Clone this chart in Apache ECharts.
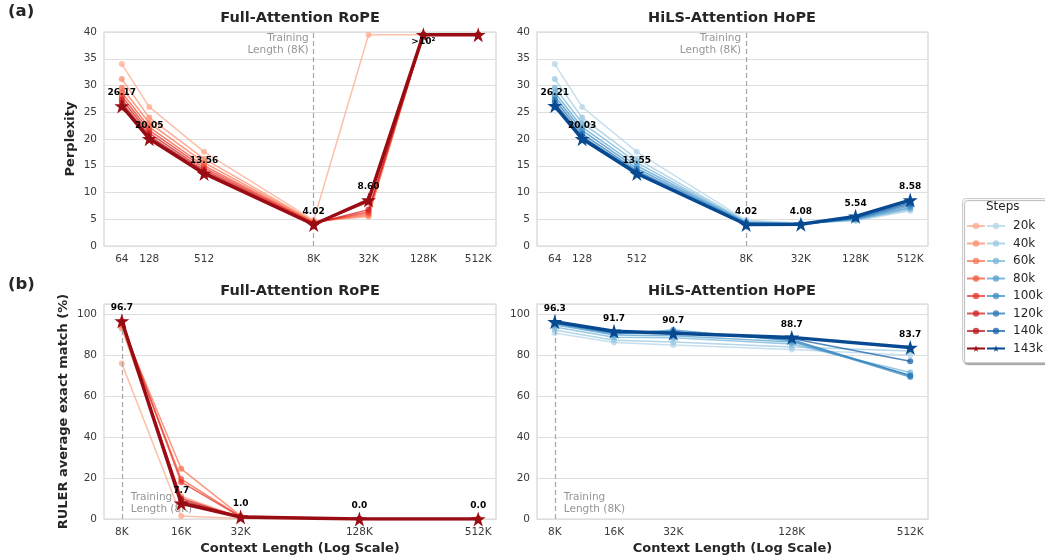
<!DOCTYPE html>
<html>
<head>
<meta charset="utf-8">
<script src="https://cdn.jsdelivr.net/npm/echarts@6/dist/echarts.min.js"></script>
<style>
html,body{margin:0;padding:0;background:#fff;}
#chart{width:1045px;height:558px;}
</style>
</head>
<body>
<div id="chart"></div>
<script>
// ---------------- DATA ----------------
const steps = ['20k', '40k', '60k', '80k', '100k', '120k', '140k', '143k'];

const pplX = [64, 128, 512, 8192, 32768, 131072, 524288];
const pplTickLabels = ['64', '128', '512', '8K', '32K', '128K', '512K'];
const rulerX = [8192, 16384, 32768, 131072, 524288];
const rulerTickLabels = ['8K', '16K', '32K', '128K', '512K'];

// Full-Attention RoPE perplexity (values > 10^2 drawn clipped at the top, 39.5)
const ropePpl = [
  [34.0, 26.0, 17.6, 4.8, 39.5, 39.5, 39.5],
  [31.2, 24.0, 16.3, 4.6, 5.5, 39.5, 39.5],
  [29.6, 23.0, 15.6, 4.5, 5.8, 39.5, 39.5],
  [28.7, 22.2, 15.0, 4.4, 6.1, 39.5, 39.5],
  [28.0, 21.6, 14.6, 4.3, 6.4, 39.5, 39.5],
  [27.4, 21.1, 14.2, 4.2, 6.8, 39.5, 39.5],
  [26.8, 20.6, 13.9, 4.1, 8.2, 39.5, 39.5],
  [26.17, 20.05, 13.56, 4.02, 8.60, 39.5, 39.5]
];
const ropePplLabels = ['26.17', '20.05', '13.56', '4.02', '8.60', '>10²', ''];

// HiLS-Attention HoPE perplexity
const hopePpl = [
  [34.0, 26.0, 17.6, 4.8, 4.3, 4.7, 6.6],
  [31.2, 24.0, 16.3, 4.6, 4.2, 4.8, 6.8],
  [29.6, 23.0, 15.6, 4.5, 4.2, 4.9, 7.0],
  [28.7, 22.2, 15.0, 4.4, 4.1, 5.0, 7.2],
  [28.0, 21.6, 14.5, 4.3, 4.1, 5.1, 7.5],
  [27.4, 21.0, 14.1, 4.2, 4.1, 5.2, 7.8],
  [26.8, 20.5, 13.8, 4.1, 4.1, 5.3, 8.1],
  [26.21, 20.03, 13.55, 4.02, 4.08, 5.54, 8.58]
];
const hopePplLabels = ['26.21', '20.03', '13.55', '4.02', '4.08', '5.54', '8.58'];

// RULER average exact match (%)
const ropeRuler = [
  [76.0, 1.5, 0.3, 0, 0],
  [93.0, 11.0, 0.8, 0, 0],
  [94.5, 24.5, 1.5, 0, 0],
  [95.5, 19.5, 1.2, 0, 0],
  [96.0, 18.0, 1.0, 0, 0],
  [96.3, 10.0, 0.8, 0, 0],
  [96.5, 9.0, 0.9, 0, 0],
  [96.7, 7.7, 1.0, 0.0, 0.0]
];
const ropeRulerLabels = ['96.7', '7.7', '1.0', '0.0', '0.0'];

const hopeRuler = [
  [90.8, 86.2, 85.0, 82.8, 80.0],
  [92.3, 87.3, 86.5, 84.0, 82.0],
  [93.8, 88.8, 88.5, 85.5, 71.5],
  [94.8, 89.8, 89.5, 86.5, 70.2],
  [95.3, 90.3, 92.3, 87.0, 69.3],
  [95.7, 90.8, 91.5, 87.5, 70.0],
  [96.0, 91.2, 91.0, 88.2, 77.0],
  [96.3, 91.7, 90.7, 88.7, 83.7]
];
const hopeRulerLabels = ['96.3', '91.7', '90.7', '88.7', '83.7'];

// ---------------- STYLE ----------------
const reds  = ['#fcab8e', '#fc8f6f', '#fb7353', '#f6553c', '#ea362a', '#d11e20', '#b81319', '#990c13'];
const blues = ['#b6d4e9', '#9ac8e0', '#77b5d9', '#58a1cf', '#3d8dc4', '#2777b8', '#1461a8', '#084a92'];
const FONT = 'DejaVu Sans';
const STAR = 'path://M0,-100L22.45,-30.9L95.1,-30.9L36.3,11.8L58.8,80.9L0,38.2L-58.8,80.9L-36.3,11.8L-95.1,-30.9L-22.45,-30.9Z';

const grids = [
  {left: 104, top: 32, width: 392, height: 214},
  {left: 537, top: 32, width: 391, height: 214},
  {left: 104, top: 304, width: 392, height: 215},
  {left: 537, top: 304, width: 391, height: 215}
].map(g => Object.assign(g, {show: true, borderColor: '#d4d4d4', borderWidth: 1.2, backgroundColor: 'transparent'}));

function tickFormatter(xs, labels) {
  const m = {};
  xs.forEach((v, i) => { m[Math.round(Math.log2(v))] = labels[i]; });
  return v => m[Math.round(Math.log2(v))] || '';
}

function xAxisCfg(gi, xs, labels, lo, hi, name) {
  return {
    type: 'log', logBase: 2, gridIndex: gi,
    min: Math.pow(2, lo), max: Math.pow(2, hi),
    axisLine: {show: false}, axisTick: {show: false}, splitLine: {show: false}, minorSplitLine: {show: false},
    axisLabel: {customValues: xs, formatter: tickFormatter(xs, labels), color: '#3a3a3a', fontSize: 10.5, margin: 8, fontFamily: FONT},
    name: name || '', nameLocation: 'middle', nameGap: 23,
    nameTextStyle: {fontWeight: 'bold', fontSize: 13, color: '#262626', fontFamily: FONT}
  };
}
function yAxisCfg(gi, max, interval, name, gap) {
  return {
    type: 'value', gridIndex: gi, min: 0, max: max, interval: interval,
    axisLine: {show: false}, axisTick: {show: false},
    splitLine: {show: true, lineStyle: {color: '#dedede', width: 1}},
    axisLabel: {color: '#3a3a3a', fontSize: 10.5, margin: 7, fontFamily: FONT, showMaxLabel: max % interval === 0},
    name: name || '', nameLocation: 'middle', nameGap: gap || 30, nameRotate: 90,
    nameTextStyle: {fontWeight: 'bold', fontSize: 13, color: '#262626', fontFamily: FONT}
  };
}

const series = [];
function addPanel(ai, xs, rows, colors, prefix, labels, topText) {
  rows.forEach((row, si) => {
    const last = si === rows.length - 1;
    const data = row.map((v, i) => {
      const item = {value: [xs[i], v]};
      if (last && labels[i] && labels[i].charAt(0) === '>') item.label = {position: 'bottom', distance: -5};
      return item;
    });
    series.push({
      type: 'line', name: prefix + steps[si], xAxisIndex: ai, yAxisIndex: ai,
      data: data, z: 3 + si,
      symbol: last ? STAR : 'circle', symbolSize: last ? 15 : 6,
      color: colors[si],
      lineStyle: {width: last ? 3.5 : 1.5, opacity: last ? 1 : 0.75, color: colors[si]},
      itemStyle: {color: colors[si], opacity: last ? 1 : 0.75},
      emphasis: {disabled: true}, silent: true, animation: false,
      label: last ? {
        show: true, position: 'top', distance: 1,
        formatter: p => labels[p.dataIndex],
        fontSize: 9, fontWeight: 'bold', color: '#000', fontFamily: FONT
      } : {show: false}
    });
  });
  // training-length reference line + annotation
  series.push({
    type: 'line', name: '_ref' + ai, xAxisIndex: ai, yAxisIndex: ai, data: [], silent: true, animation: false,
    markLine: {
      silent: true, symbol: 'none', animation: false,
      lineStyle: {type: [5, 3], color: '#a6a6a6', width: 1.2},
      label: {show: false},
      data: [{xAxis: 8192}]
    },
    markPoint: {
      silent: true, symbol: 'circle', symbolSize: 0, animation: false,
      itemStyle: {color: 'transparent'},
      label: topText ? {
        show: true, position: 'inside', align: 'right', verticalAlign: 'top', offset: [-5, 0],
        formatter: 'Training\nLength (8K)', color: '#969696', fontSize: 10.5, lineHeight: 12, fontFamily: FONT
      } : {
        show: true, position: 'inside', align: 'left', verticalAlign: 'bottom', offset: [9, -4],
        formatter: 'Training\nLength (8K)', color: '#969696', fontSize: 10.5, lineHeight: 12, fontFamily: FONT
      },
      data: [{coord: topText ? [8192, 40] : [8192, 0]}]
    }
  });
}

addPanel(0, pplX, ropePpl, reds, 'RoPE ', ropePplLabels, true);
addPanel(1, pplX, hopePpl, blues, 'HoPE ', hopePplLabels, true);
addPanel(2, rulerX, ropeRuler, reds, 'RoPE ', ropeRulerLabels, false);
addPanel(3, rulerX, hopeRuler, blues, 'HoPE ', hopeRulerLabels, false);

const legendCommon = {
  orient: 'vertical', top: 219, itemWidth: 18, itemHeight: 8, itemGap: 3.5, padding: 0,
  selectedMode: false, backgroundColor: 'transparent',
  textStyle: {fontSize: 12, lineHeight: 14, color: '#262626', fontFamily: FONT}
};

const option = {
  backgroundColor: '#fff',
  animation: false,
  textStyle: {fontFamily: FONT},
  title: [
    {text: 'Full-Attention RoPE', left: 300, top: 11, textAlign: 'center'},
    {text: 'HiLS-Attention HoPE', left: 732, top: 11, textAlign: 'center'},
    {text: 'Full-Attention RoPE', left: 300, top: 284, textAlign: 'center'},
    {text: 'HiLS-Attention HoPE', left: 732, top: 284, textAlign: 'center'}
  ].map(t => Object.assign(t, {padding: 0, textStyle: {fontSize: 14.5, fontWeight: 'bold', color: '#262626', fontFamily: FONT}})),
  grid: grids,
  xAxis: [
    xAxisCfg(0, pplX, pplTickLabels, 6 - 0.65, 19 + 0.65),
    xAxisCfg(1, pplX, pplTickLabels, 6 - 0.65, 19 + 0.65),
    xAxisCfg(2, rulerX, rulerTickLabels, 13 - 0.3, 19 + 0.3, 'Context Length (Log Scale)'),
    xAxisCfg(3, rulerX, rulerTickLabels, 13 - 0.3, 19 + 0.3, 'Context Length (Log Scale)')
  ],
  yAxis: [
    yAxisCfg(0, 40, 5, 'Perplexity', 27),
    yAxisCfg(1, 40, 5),
    yAxisCfg(2, 105, 20, 'RULER average exact match (%)', 34),
    yAxisCfg(3, 105, 20)
  ],
  legend: [
    Object.assign({}, legendCommon, {left: 966, data: steps.map(s => 'RoPE ' + s), formatter: () => ' '}),
    Object.assign({}, legendCommon, {left: 986, data: steps.map(s => 'HoPE ' + s), formatter: n => n.replace('HoPE ', ''),
      textStyle: Object.assign({}, legendCommon.textStyle, {padding: [0, 0, 0, 3]})})
  ],
  graphic: [
    {type: 'rect', left: 962, top: 198, z: -1, silent: true,
      shape: {width: 100, height: 164, r: 3},
      style: {fill: '#fff', stroke: '#cccccc', lineWidth: 1, shadowColor: 'rgba(0,0,0,0.3)', shadowOffsetX: 2, shadowOffsetY: 2, shadowBlur: 1}},
    {type: 'text', left: 986, top: 201, silent: true,
      style: {text: 'Steps', fontSize: 12, fill: '#262626', fontFamily: FONT}},
    {type: 'text', left: 8, top: 3, silent: true,
      style: {text: '(a)', fontSize: 16.5, fontWeight: 'bold', fill: '#262626', fontFamily: FONT}},
    {type: 'text', left: 8, top: 276, silent: true,
      style: {text: '(b)', fontSize: 16.5, fontWeight: 'bold', fill: '#262626', fontFamily: FONT}}
  ],
  series: series
};

const chart = echarts.init(document.getElementById('chart'), null, {renderer: 'canvas'});
chart.setOption(option);
</script>
</body>
</html>
